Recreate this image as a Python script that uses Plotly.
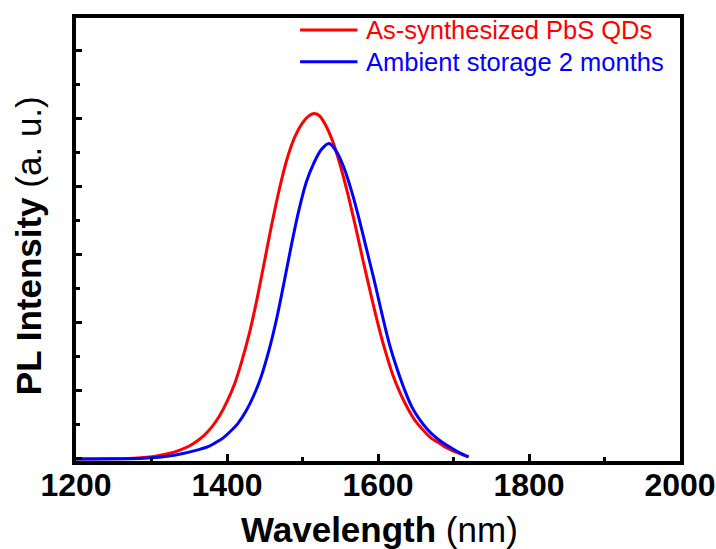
import plotly.graph_objects as go

# Wavelength (nm) and PL intensity (a.u.)
red_x = [1200, 1240, 1270, 1290, 1305, 1320, 1330, 1340, 1350, 1360, 1370, 1380, 1390,
         1400, 1410, 1420, 1430, 1440, 1450, 1460, 1470, 1480, 1490, 1500, 1508, 1515,
         1522, 1530, 1540, 1550, 1560, 1570, 1580, 1590, 1600, 1610, 1620, 1630, 1640,
         1650, 1660, 1670, 1680, 1690, 1700, 1710, 1720]
red_y = [0.0, 0.002, 0.008, 0.02, 0.04, 0.072, 0.10, 0.14, 0.19, 0.26, 0.35, 0.47, 0.63,
         0.84, 1.10, 1.45, 1.86, 2.36, 2.92, 3.48, 3.99, 4.42, 4.73, 4.93, 5.03, 5.07,
         5.04, 4.91, 4.66, 4.31, 3.89, 3.42, 2.92, 2.44, 1.98, 1.57, 1.22, 0.95, 0.73,
         0.55, 0.42, 0.31, 0.24, 0.17, 0.115, 0.07, 0.03]

blue_x = [1200, 1260, 1290, 1310, 1325, 1340, 1355, 1365, 1375, 1385, 1395, 1405, 1415,
          1425, 1435, 1445, 1455, 1465, 1475, 1485, 1495, 1505, 1515, 1525, 1535, 1545,
          1555, 1565, 1575, 1585, 1595, 1605, 1615, 1625, 1635, 1645, 1655, 1665, 1675,
          1685, 1695, 1705, 1712, 1720]
blue_y = [0.0, 0.002, 0.01, 0.025, 0.045, 0.076, 0.115, 0.145, 0.18, 0.24, 0.31, 0.41, 0.53,
          0.70, 0.92, 1.20, 1.57, 2.02, 2.56, 3.12, 3.64, 4.06, 4.34, 4.54, 4.63, 4.51,
          4.27, 3.93, 3.52, 3.07, 2.62, 2.14, 1.69, 1.33, 1.02, 0.76, 0.58, 0.44, 0.33,
          0.245, 0.175, 0.11, 0.07, 0.03]

series_names = ["As-synthesized PbS QDs", "Ambient storage 2 months"]
series_colors = ["#FF0000", "#0000FF"]
x_ticks = [1200, 1400, 1600, 1800, 2000]

FONT = "Liberation Sans, Arial, sans-serif"

fig = go.Figure()
for xs, ys, name, col in [(red_x, red_y, series_names[0], series_colors[0]),
                          (blue_x, blue_y, series_names[1], series_colors[1])]:
    fig.add_trace(go.Scatter(x=xs, y=ys, mode="lines", name=name,
                             line=dict(color=col, width=3, shape="spline", smoothing=1.0),
                             showlegend=False))

# Manual legend (lines + coloured text)
leg_y = [0.973, 0.901]
for i, (name, col) in enumerate(zip(series_names, series_colors)):
    fig.add_shape(type="line", xref="paper", yref="paper",
                  x0=0.371, x1=0.466, y0=leg_y[i], y1=leg_y[i],
                  line=dict(color=col, width=3))
    fig.add_annotation(xref="paper", yref="paper", x=0.476, y=leg_y[i],
                       text=name, showarrow=False, xanchor="left", yanchor="middle",
                       font=dict(family=FONT, size=25.5, color=col))

# Axis titles
fig.add_annotation(xref="paper", yref="paper", x=0.503, y=0, yshift=-68,
                   text="<b>Wavelength</b> (nm)", showarrow=False,
                   xanchor="center", yanchor="middle",
                   font=dict(family=FONT, size=35, color="black"))
fig.add_annotation(xref="paper", yref="paper", x=0, xshift=-48, y=0.485,
                   text="<b>PL Intensity</b> (a. u.)", showarrow=False, textangle=-90,
                   xanchor="center", yanchor="middle",
                   font=dict(family=FONT, size=35, color="black"))

fig.update_layout(
    width=716, height=549,
    margin=dict(l=76, r=36, t=18, b=88),
    plot_bgcolor="white", paper_bgcolor="white",
    xaxis=dict(
        range=[1200, 2000], tickvals=x_ticks, ticktext=[str(v) for v in x_ticks],
        ticks="inside", ticklen=7, tickwidth=3, tickcolor="black",
        minor=dict(dtick=100, ticks="inside", ticklen=4, tickwidth=3, tickcolor="black"),
        showline=True, linecolor="black", linewidth=3.5, mirror=True,
        showgrid=False, zeroline=False, automargin=False,
        tickfont=dict(family=FONT, size=32, color="black", weight=700),
        ticklabelstandoff=-7,
    ),
    yaxis=dict(
        range=[-0.03, 6.47], dtick=1, tick0=0,
        ticks="inside", ticklen=6, tickwidth=3, tickcolor="black",
        minor=dict(dtick=0.5, ticks="inside", ticklen=4, tickwidth=3, tickcolor="black"),
        showticklabels=False,
        showline=True, linecolor="black", linewidth=3.5, mirror=True,
        showgrid=False, zeroline=False, automargin=False,
    ),
)

fig.write_html("out.html")
